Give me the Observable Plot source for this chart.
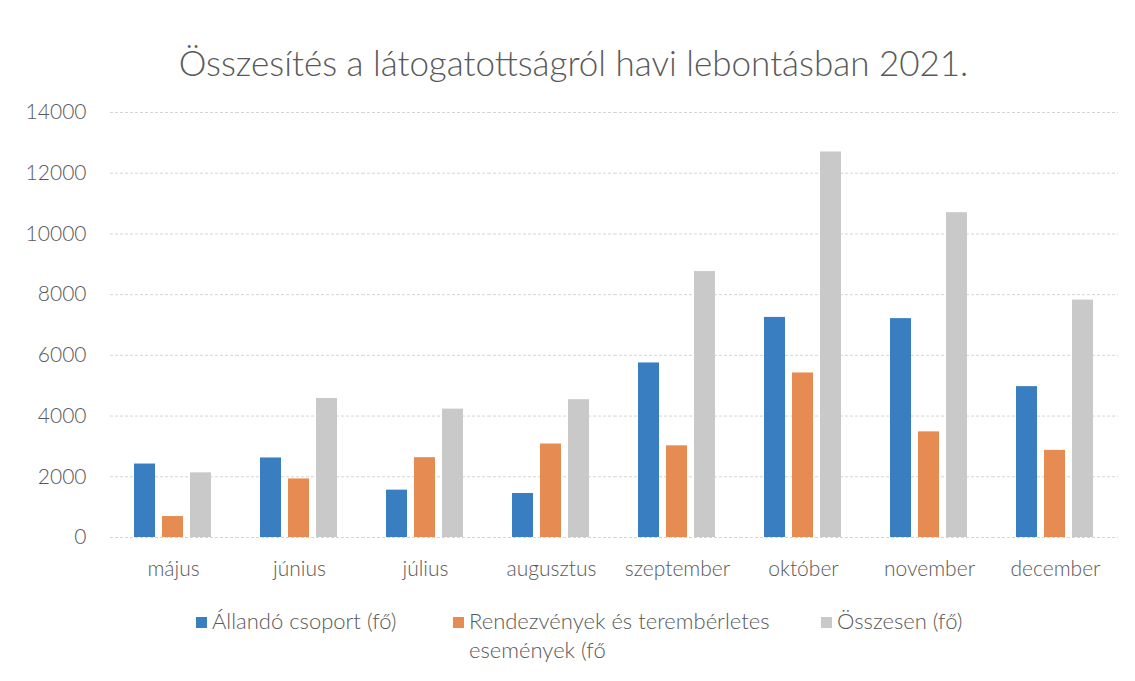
<!DOCTYPE html>
<html><head><meta charset="utf-8">
<script src="https://cdn.jsdelivr.net/npm/d3@7"></script>
<script src="https://cdn.jsdelivr.net/npm/@observablehq/plot@0.6"></script>
<style>
body{margin:0;background:#fff;font-family:Lato,"Open Sans",sans-serif;color:#595959;}
#wrap{position:relative;width:1135px;height:681px;}
#title{position:absolute;top:41px;left:6px;width:1135px;text-align:center;font-size:35px;font-weight:300;color:#595959;}
#chart{position:absolute;top:95px;left:0;}
#chart text{font-weight:300;}
.leg{position:absolute;font-size:22px;font-weight:300;color:#595959;line-height:29px;}
.sw{display:inline-block;width:11px;height:11px;margin-right:5px;vertical-align:1px;}
</style></head>
<body><div id="wrap">
<div id="title">Összesítés a látogatottságról havi lebontásban 2021.</div>
<div id="chart"></div>
<div class="leg" style="left:196px;top:606px;"><span class="sw" style="background:#3a7ec2"></span>Állandó csoport (fő)</div>
<div class="leg" style="left:453px;top:606px;"><span class="sw" style="background:#e68c52"></span>Rendezvények és terembérletes<br><span style="padding-left:16px">események (fő</span></div>
<div class="leg" style="left:821px;top:606px;"><span class="sw" style="background:#c9c9c9"></span>Összesen (fő)</div>
</div>
<script>
const months = ["május","június","július","augusztus","szeptember","október","november","december"];
const seriesNames = ["Állandó csoport (fő)","Rendezvények és terembérletes események (fő","Összesen (fő)"];
const allando = [2420, 2620, 1560, 1450, 5750, 7250, 7210, 4970];
const rendezveny = [690, 1930, 2630, 3080, 3020, 5420, 3480, 2870];
const osszesen = [2130, 4580, 4230, 4540, 8760, 12700, 10700, 7820];
const yTicks = [0,2000,4000,6000,8000,10000,12000,14000];
const colors = ["#3a7ec2","#e68c52","#c9c9c9"];

const data = [];
months.forEach((m,i)=>{
  data.push({month:m, series:seriesNames[0], value:allando[i]});
  data.push({month:m, series:seriesNames[1], value:rendezveny[i]});
  data.push({month:m, series:seriesNames[2], value:osszesen[i]});
});

const chart = Plot.plot({
  width: 1135,
  height: 487,
  marginLeft: 107,
  marginRight: 14,
  marginTop: 17,
  marginBottom: 45,
  style: {fontFamily: "Lato, 'Open Sans', sans-serif", fontSize: "21px", color: "#595959", background: "transparent"},
  fx: {domain: months, padding: 0, label: null, tickSize: 0, tickPadding: 24, axis: "bottom"},
  x: {domain: seriesNames, paddingInner: 0.24, paddingOuter: 0.8, axis: null},
  y: {domain: [0, 14000], ticks: yTicks, tickFormat: d3.format("d"), label: null, tickSize: 0, tickPadding: 24},
  color: {domain: seriesNames, range: colors},
  marks: [
    Plot.ruleY(yTicks, {stroke: "#d4d4d4", strokeWidth: 1, strokeDasharray: "3,2"}),
    Plot.barY(data, {fx: "month", x: "series", y: "value", fill: "series"})
  ]
});
document.getElementById("chart").appendChild(chart);
</script>
</body></html>
